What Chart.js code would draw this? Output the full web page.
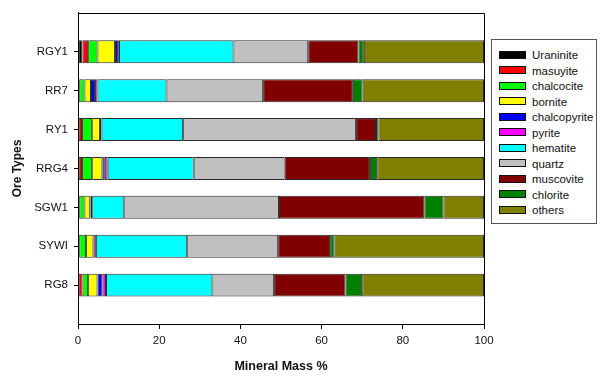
<!DOCTYPE html>
<html>
<head>
<meta charset="utf-8">
<script src="https://cdn.jsdelivr.net/npm/chart.js@4.4.1/dist/chart.umd.min.js"></script>
<style>
  body { margin: 0; background: #fff; }
  #wrap { position: relative; width: 600px; height: 377px; }
  #legend {
    position: absolute; left: 491px; top: 39px; width: 106px; height: 185px;
    border: 1px solid #555; background: #fff; box-sizing: border-box;
    font-family: "Liberation Sans", Arial, sans-serif; font-size: 11.5px; color: #111;
  }
  .item { position: absolute; left: 7px; height: 15px; line-height: 15px; white-space: nowrap; }
  .swatch { display: inline-block; width: 25px; height: 6px; border: 1px solid #111; vertical-align: middle; margin-right: 6px; position: relative; top: -1px; }
</style>
</head>
<body>
<div id="wrap">
  <canvas id="chart" width="600" height="377"></canvas>
  <div id="legend"></div>
</div>
<script>
const categories = ['RGY1', 'RR7', 'RY1', 'RRG4', 'SGW1', 'SYWI', 'RG8'];
const seriesNames = ['Uraninite', 'masuyite', 'chalcocite', 'bornite', 'chalcopyrite', 'pyrite',
  'hematite', 'quartz', 'muscovite', 'chlorite', 'others'];
const seriesColors = ['#000000', '#ff0000', '#00ff00', '#ffff00', '#0000ff', '#ff00ff',
  '#00ffff', '#c0c0c0', '#800000', '#008000', '#808000'];

// mineral mass % per ore type, same order as categories
const uraninite = [1.1, 0, 0, 0, 0, 0, 0];
const masuyite = [1.4, 0.3, 1.0, 1.0, 0.3, 0.3, 1.1];
const chalcocite = [2.3, 1.3, 2.5, 2.5, 1.3, 1.7, 1.4];
const bornite = [4.3, 1.6, 1.9, 2.5, 1.3, 1.8, 2.3];
const chalcopyrite = [0.8, 1.0, 0.4, 0.6, 0.2, 0, 1.2];
const pyrite = [0.2, 0.6, 0, 0.7, 0.4, 0.6, 0.9];
const hematite = [28.2, 17.0, 20.1, 21.2, 7.9, 22.5, 26.2];
const quartz = [18.4, 23.8, 42.6, 22.4, 38.1, 22.4, 15.2];
const muscovite = [12.4, 22.1, 4.9, 21.0, 35.8, 12.8, 17.6];
const chlorite = [1.3, 2.4, 0.6, 1.8, 4.7, 1.1, 4.1];
const others = [29.6, 29.9, 26.0, 26.3, 10.0, 36.8, 30.0];

const xTicks = [0, 20, 40, 60, 80, 100];

const seriesData = [uraninite, masuyite, chalcocite, bornite, chalcopyrite, pyrite,
  hematite, quartz, muscovite, chlorite, others];

const font = "'Liberation Sans', Arial, sans-serif";

// close the frame on top and right
const framePlugin = {
  id: 'frame',
  afterDraw(chart) {
    const a = chart.chartArea;
    const ctx = chart.ctx;
    ctx.save();
    ctx.strokeStyle = '#000';
    ctx.lineWidth = 1;
    ctx.beginPath();
    ctx.moveTo(Math.round(a.left) + 0.5, Math.round(a.top) + 0.5);
    ctx.lineTo(Math.round(a.right) + 0.5, Math.round(a.top) + 0.5);
    ctx.lineTo(Math.round(a.right) + 0.5, Math.round(a.bottom) + 0.5);
    ctx.stroke();
    ctx.restore();
  }
};

const datasets = seriesNames.map((name, i) => ({
  label: name,
  data: seriesData[i],
  backgroundColor: seriesColors[i],
  borderColor: '#2a2a2a',
  borderWidth: 1,
  borderSkipped: false,
  barPercentage: 0.59,
  categoryPercentage: 1
}));

new Chart(document.getElementById('chart'), {
  type: 'bar',
  data: {
    labels: categories.map((c, i) => i),
    datasets: datasets
  },
  options: {
    indexAxis: 'y',
    responsive: false,
    animation: false,
    layout: { padding: { top: 8, right: 116, bottom: 0, left: 0 } },
    plugins: {
      legend: { display: false },
      tooltip: { enabled: false }
    },
    scales: {
      x: {
        stacked: true,
        min: 0,
        max: 100,
        afterFit: s => { s.height = 53; },
        afterBuildTicks: s => { s.ticks = xTicks.map(v => ({ value: v })); },
        grid: { drawOnChartArea: false, drawTicks: true, tickLength: 5, color: '#000' },
        border: { display: true, color: '#000' },
        ticks: { padding: 5, color: '#111', font: { family: font, size: 11.5 } },
        title: {
          display: true,
          text: 'Mineral Mass %',
          color: '#111',
          padding: { top: 0, bottom: 3 },
          font: { family: font, size: 12.5, weight: 'bold' }
        }
      },
      y: {
        type: 'linear',
        stacked: true,
        reverse: true,
        offset: false,
        min: -1,
        max: 7,
        afterFit: s => { s.width = 78; },
        afterBuildTicks: s => { s.ticks = categories.map((c, i) => ({ value: i })); },
        grid: { offset: false, drawOnChartArea: false, drawTicks: true, tickLength: 4, color: '#000' },
        border: { display: true, color: '#000' },
        ticks: {
          padding: 6,
          color: '#111',
          font: { family: font, size: 11.5 },
          callback: v => categories[v]
        },
        title: {
          display: true,
          text: 'Ore Types',
          color: '#111',
          padding: { top: 10, bottom: 0 },
          font: { family: font, size: 12, weight: 'bold' }
        }
      }
    }
  },
  plugins: [framePlugin]
});

// legend box built from the same series arrays
const legend = document.getElementById('legend');
seriesNames.forEach((name, i) => {
  const row = document.createElement('div');
  row.className = 'item';
  row.style.top = (8 + i * 15.5) + 'px';
  row.innerHTML = '<span class="swatch" style="background:' + seriesColors[i] + '"></span>' + name;
  legend.appendChild(row);
});
</script>
</body>
</html>
